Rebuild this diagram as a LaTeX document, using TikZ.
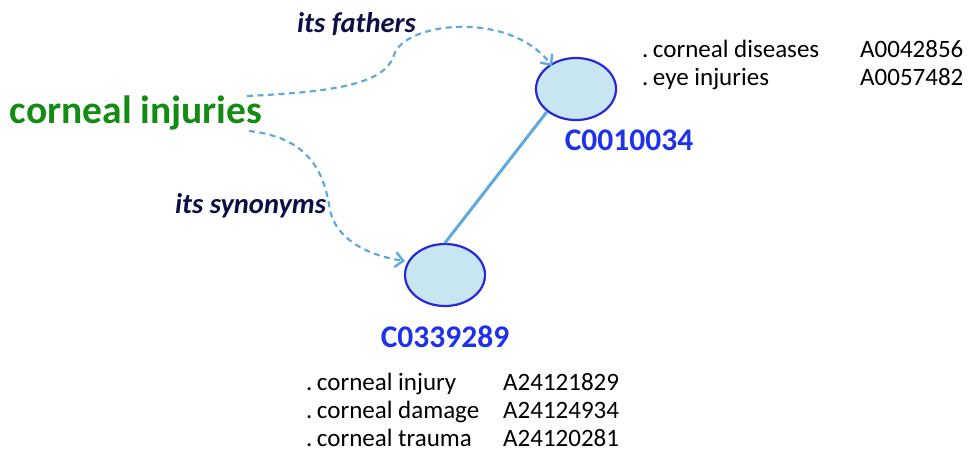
\documentclass[tikz,border=0pt]{standalone}
\usepackage{fontspec}
\setmainfont{Carlito}
\usetikzlibrary{shapes.geometric,arrows.meta}
\definecolor{termgreen}{RGB}{20,140,20}
\definecolor{cuiblue}{RGB}{30,50,235}
\definecolor{navytext}{RGB}{15,15,70}
\definecolor{linkblue}{RGB}{95,170,220}
\definecolor{ellfill}{RGB}{200,230,242}
\definecolor{ellline}{RGB}{40,40,215}
\newcommand{\dotsp}{.\hspace{0.18em}}
\tikzset{
  concept/.style={ellipse, draw=ellline, fill=ellfill, line width=2.2pt, minimum width=80pt, minimum height=62pt, inner sep=0pt},
  cui/.style={anchor=base, text=cuiblue, font=\fontsize{31.5}{36}\selectfont\bfseries, inner sep=0pt},
  item/.style={anchor=base west, font=\fontsize{25}{30}\selectfont, inner sep=0pt},
  rel/.style={anchor=base west, text=navytext, font=\fontsize{28.5}{32}\selectfont\bfseries\itshape, inner sep=0pt},
  dashlink/.style={draw=linkblue, line width=2.2pt, dash pattern=on 6pt off 4.5pt, -{Straight Barb[length=8pt,width=15pt,line width=2.4pt]}},
}
\begin{document}
\begin{tikzpicture}[x=1pt,y=-1pt]
\useasboundingbox (0,0) rectangle (968,452);
\node[anchor=base, text=termgreen, font=\fontsize{39.5}{44}\selectfont\bfseries, inner sep=0pt] (term) at (136,123) {corneal injuries};
\node[concept] (top) at (576,89) {};
\node[concept] (bot) at (445,275) {};
\node[cui] (topid) at (629,150) {C0010034};
\node[cui] (botid) at (445,347) {C0339289};
\node[rel] (fath) at (297,33) {its fathers};
\node[rel] (syn) at (175,213) {its synonyms};
\node[item] (t1) at (642,57) {\dotsp corneal diseases};
\node[item] (t1a) at (860,57) {A0042856};
\node[item] (t2) at (642,85) {\dotsp eye injuries};
\node[item] (t2a) at (860,85) {A0057482};
\node[item] (b1) at (306,390) {\dotsp corneal injury};
\node[item] (b1a) at (503,390) {A24121829};
\node[item] (b2) at (306,418) {\dotsp corneal damage};
\node[item] (b2a) at (503,418) {A24124934};
\node[item] (b3) at (306,446) {\dotsp corneal trauma};
\node[item] (b3a) at (503,446) {A24120281};
\coordinate (fstart) at (247,96);
\coordinate (sstart) at (249,131);
\coordinate (fend) at (552,66);
\coordinate (send) at (405,261);
\draw[linkblue, line width=3pt] (bot.north) -- (top.south west);
\draw[dashlink] (fstart) .. controls (330,92) and (385,85) .. (394,55) .. controls (404,22) and (510,10) .. (fend);
\draw[dashlink] (sstart) .. controls (315,138) and (325,180) .. (330,210) .. controls (336,240) and (370,256) .. (send);
\end{tikzpicture}
\end{document}
